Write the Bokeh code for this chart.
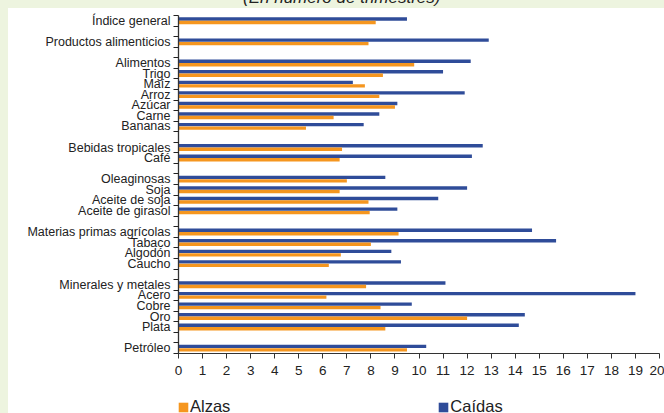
from bokeh.plotting import figure
from bokeh.models import (ColumnDataSource, Range1d, FixedTicker, Legend, LegendItem, Div)
from bokeh.layouts import column, row
from bokeh.transform import dodge
from bokeh.embed import file_html
from bokeh.resources import INLINE

# Commodity groups, drawn top to bottom with a blank row between groups
groups = [
    ["Índice general"],
    ["Productos alimenticios"],
    ["Alimentos", "Trigo", "Maíz", "Arroz", "Azúcar", "Carne", "Bananas"],
    ["Bebidas tropicales", "Café"],
    ["Oleaginosas", "Soja", "Aceite de soja", "Aceite de girasol"],
    ["Materias primas agrícolas", "Tabaco", "Algodón", "Caucho"],
    ["Minerales y metales", "Acero", "Cobre", "Oro", "Plata"],
    ["Petróleo"],
]

# Duration of price phases (number of quarters)
alzas = [8.2, 7.9, 9.8, 8.5, 7.75, 8.35, 9.0, 6.45, 5.3, 6.8, 6.7, 7.0, 6.7,
         7.9, 7.95, 9.15, 8.0, 6.75, 6.25, 7.8, 6.15, 8.4, 12.0, 8.6, 9.5]
caidas = [9.5, 12.9, 12.15, 11.0, 7.25, 11.9, 9.1, 8.35, 7.7, 12.65, 12.2, 8.6,
          12.0, 10.8, 9.1, 14.7, 15.7, 8.85, 9.25, 11.1, 19.0, 9.7, 14.4, 14.15, 10.3]

x_ticks = list(range(0, 21))
series_labels = ["Alzas", "Caídas"]

title_text = "(En número de trimestres)"

ORANGE = "#F5961F"
BLUE = "#2F4C99"
GREEN_BG = "#EDF4DF"
FONT = "Liberation Sans"

# row index for every category (1-based, gaps between groups)
names, rows = [], []
r = 1
for gi, g in enumerate(groups):
    for name in g:
        names.append(name)
        rows.append(r)
        r += 1
    r += 1
n_rows = r - 2

src = ColumnDataSource(dict(row=rows, name=names, alzas=alzas, caidas=caidas))

p = figure(width=656, height=381, output_backend="svg", toolbar_location=None,
           x_range=Range1d(0, 20), y_range=Range1d(n_rows + 0.5, 0.5),
           min_border_left=170, min_border_right=5, min_border_top=7,
           min_border_bottom=36, margin=0)
p.outline_line_color = None
p.background_fill_color = "white"
p.border_fill_color = "white"
p.grid.visible = False

bar_h = 0.32
p.hbar(y=dodge("row", -0.17), left=0, right="caidas", height=bar_h,
       fill_color=BLUE, line_color=None, source=src)
p.hbar(y=dodge("row", 0.16), left=0, right="alzas", height=bar_h,
       fill_color=ORANGE, line_color=None, source=src)

# y axis: labels at category rows, tick marks between rows
ya = p.yaxis[0]
ya.ticker = FixedTicker(ticks=rows, minor_ticks=[i + 0.5 for i in range(0, n_rows + 1)])
ya.major_label_overrides = {rw: nm for rw, nm in zip(rows, names)}
ya.major_tick_out = 0
ya.major_tick_in = 0
ya.minor_tick_out = 5
ya.minor_tick_in = 0
ya.minor_tick_line_color = "#222222"
ya.axis_line_color = "#333333"
ya.axis_line_width = 1.3
ya.major_label_standoff = 3
ya.major_label_text_font = FONT
ya.major_label_text_font_size = "12.5px"
ya.major_label_text_color = "#222222"

xa = p.xaxis[0]
xa.ticker = FixedTicker(ticks=x_ticks)
xa.major_tick_out = 5
xa.major_tick_in = 0
xa.minor_tick_out = 0
xa.minor_tick_in = 0
xa.axis_line_color = "#333333"
xa.major_tick_line_color = "#333333"
xa.major_label_standoff = 7
xa.major_label_text_font = FONT
xa.major_label_text_font_size = "13.5px"
xa.major_label_text_color = "#222222"

# legend strip under the chart (its frame lines up with the chart's frame)
lf = figure(width=656, height=24, output_backend="svg", toolbar_location=None,
            x_range=Range1d(0, 1), y_range=Range1d(0, 1),
            x_axis_location=None, y_axis_location=None,
            min_border_left=170, min_border_right=5, min_border_top=0,
            min_border_bottom=0, margin=0)
lf.outline_line_color = None
lf.grid.visible = False
lf.background_fill_color = "white"
lf.border_fill_color = "white"
k_alz = lf.hbar(y="row", right="alzas", height=bar_h, fill_color=ORANGE,
                line_color=None, source=src, visible=False)
k_cai = lf.hbar(y="row", right="caidas", height=bar_h, fill_color=BLUE,
                line_color=None, source=src, visible=False)

legend = Legend(items=[LegendItem(label=series_labels[0], renderers=[k_alz]),
                       LegendItem(label=series_labels[1], renderers=[k_cai])],
                orientation="horizontal", location=(-1, -3),
                glyph_width=12, glyph_height=12, label_standoff=1,
                label_text_font=FONT, label_text_font_size="16.5px",
                label_text_color="#222222", spacing=207,
                padding=0, margin=0, border_line_color=None,
                background_fill_alpha=0, inactive_fill_alpha=0)
lf.add_layout(legend)

top_strip = Div(
    text=('<div style="position:relative;top:-12px;left:243px;white-space:nowrap;'
          'font:italic 17px \'Liberation Sans\';color:#222">' + title_text + '</div>'),
    width=664, height=8, margin=0,
    styles={"background-color": GREEN_BG, "overflow": "hidden"})
left_strip = Div(text="", width=8, height=405, margin=0,
                 styles={"background-color": GREEN_BG})

layout = column(top_strip,
                row(left_strip, column(p, lf, spacing=0, margin=0), spacing=0, margin=0),
                spacing=0, margin=0)

open("out.html", "w").write(file_html(layout, INLINE))
